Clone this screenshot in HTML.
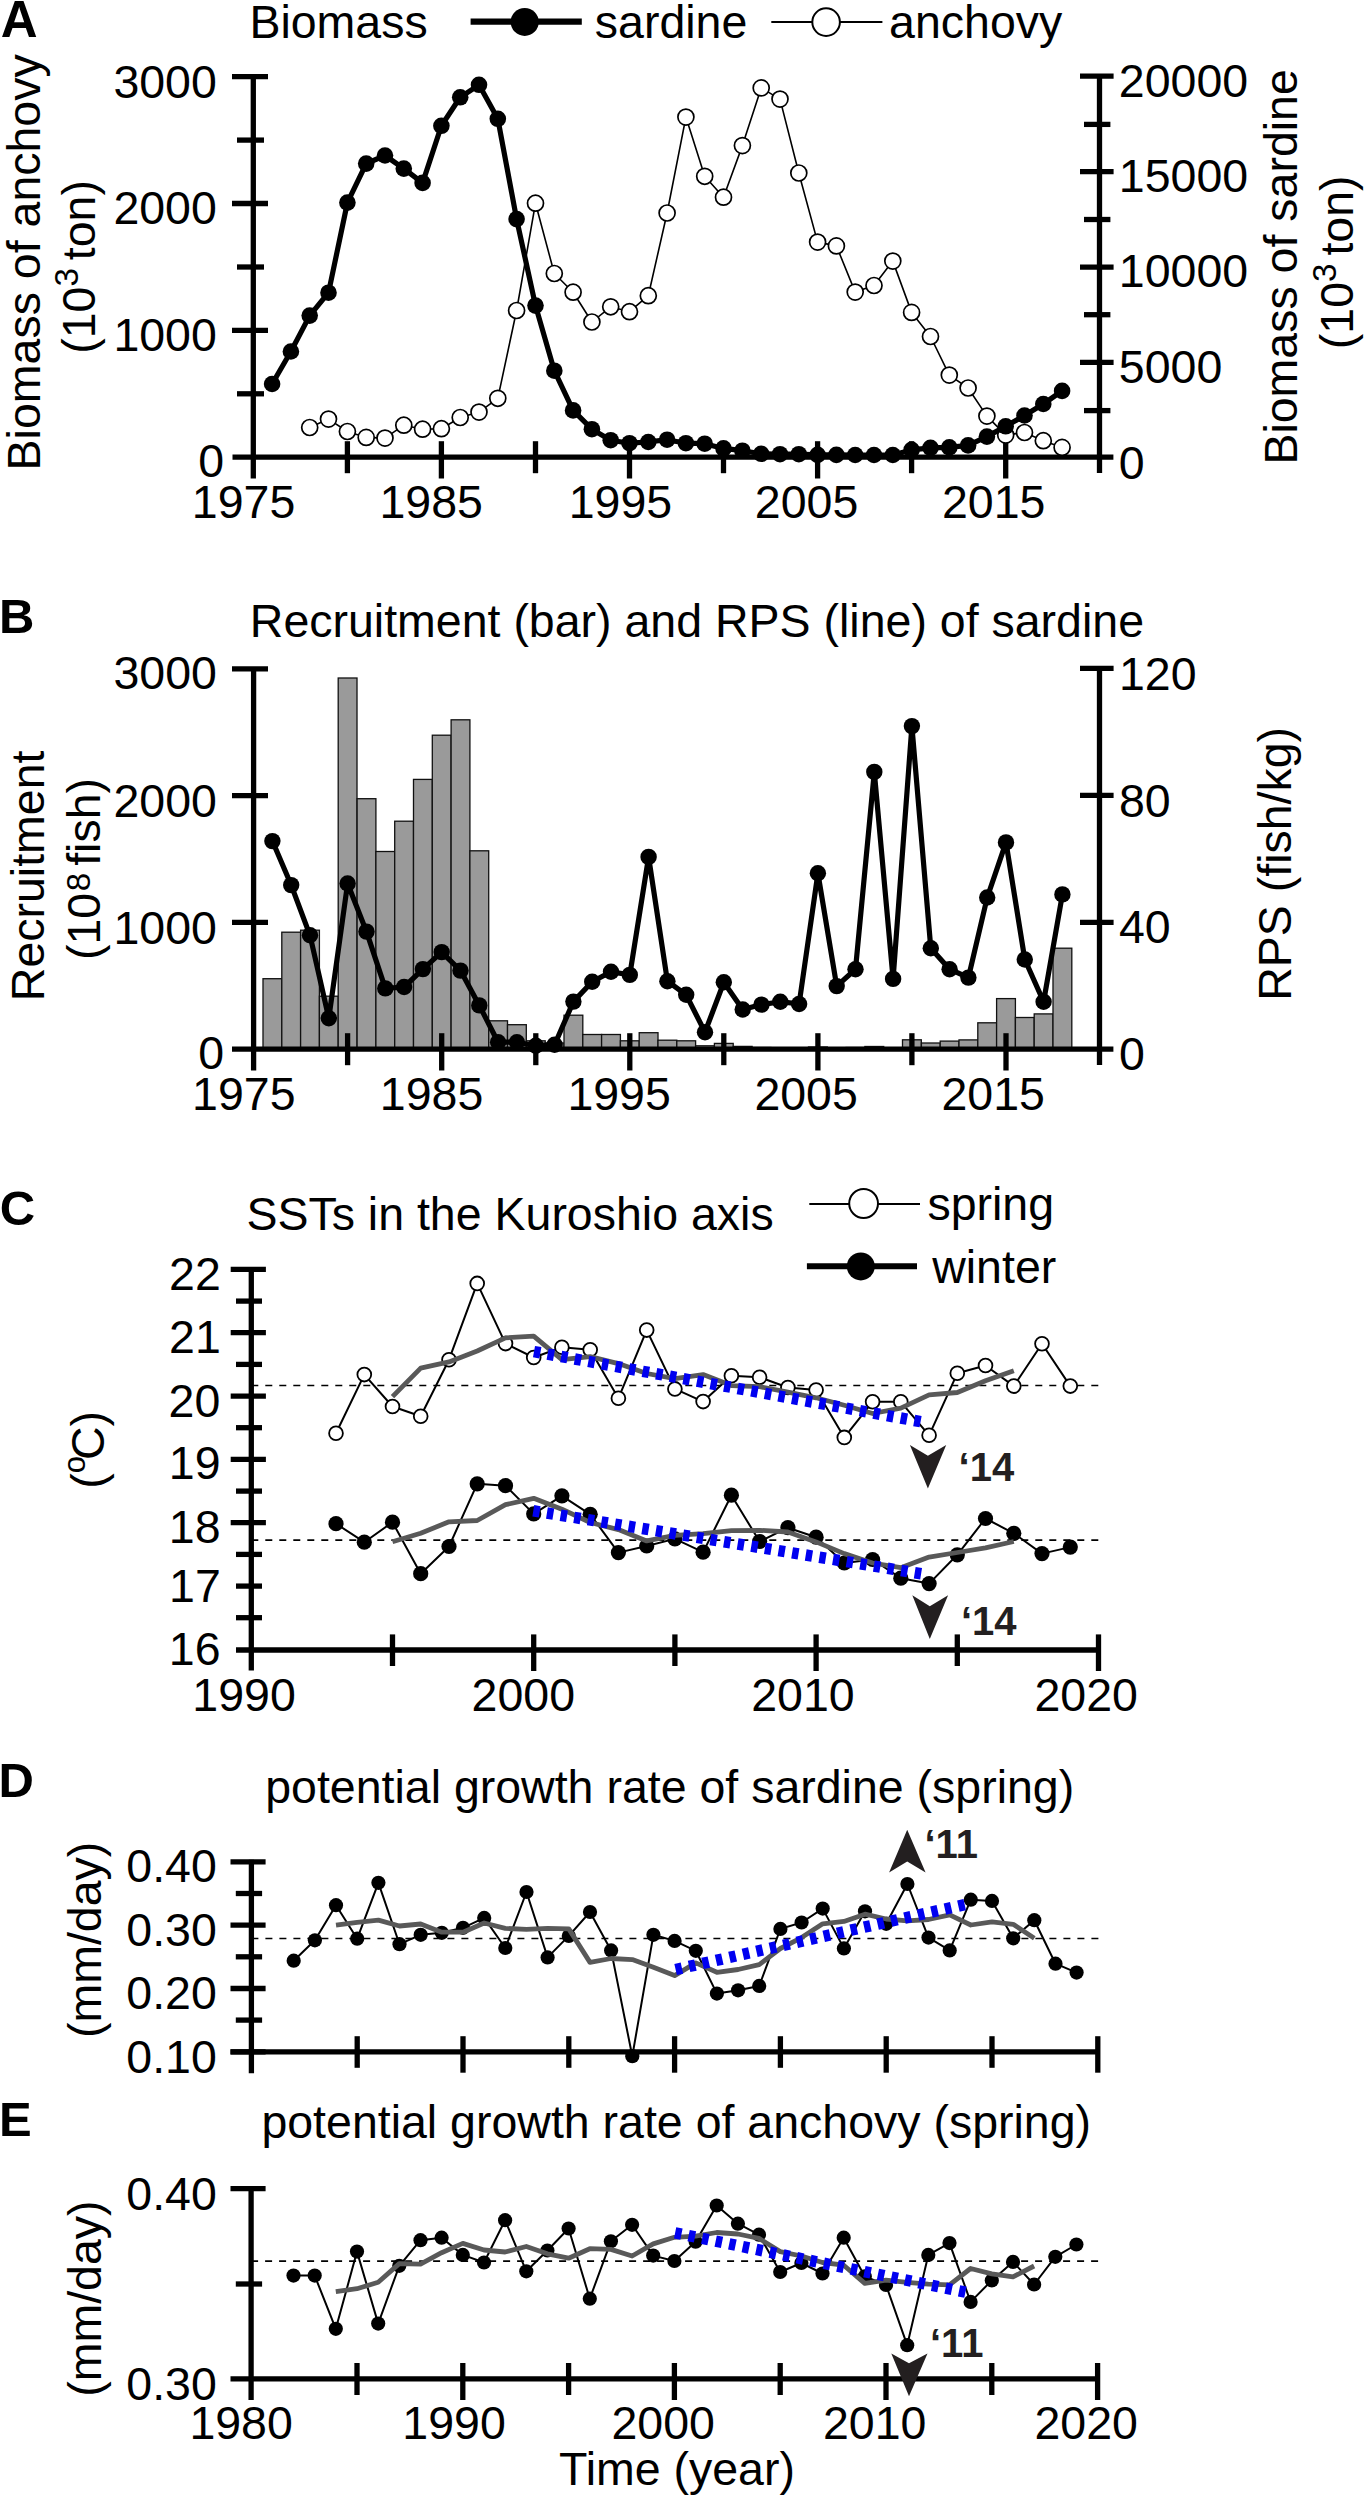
<!DOCTYPE html>
<html><head><meta charset="utf-8"><style>
html,body{margin:0;padding:0;background:#fff;}
svg{display:block;}
text{font-family:"Liberation Sans", sans-serif;}
</style></head><body>
<svg width="1367" height="2500" viewBox="0 0 1367 2500">
<rect width="1367" height="2500" fill="#fff"/>
<line x1="253.3" y1="76.7" x2="253.3" y2="478.5" stroke="#000" stroke-width="5.3"/>
<line x1="1099.5" y1="76" x2="1099.5" y2="473" stroke="#000" stroke-width="5.3"/>
<line x1="232.5" y1="457.2" x2="1113.4" y2="457.2" stroke="#000" stroke-width="5.3"/>
<line x1="232" y1="76.7" x2="268" y2="76.7" stroke="#000" stroke-width="5.3"/>
<line x1="232" y1="203.5" x2="268" y2="203.5" stroke="#000" stroke-width="5.3"/>
<line x1="232" y1="330.4" x2="268" y2="330.4" stroke="#000" stroke-width="5.3"/>
<line x1="237" y1="140.1" x2="264" y2="140.1" stroke="#000" stroke-width="5.3"/>
<line x1="237" y1="267" x2="264" y2="267" stroke="#000" stroke-width="5.3"/>
<line x1="237" y1="393.8" x2="264" y2="393.8" stroke="#000" stroke-width="5.3"/>
<line x1="1080" y1="76.1" x2="1113.6" y2="76.1" stroke="#000" stroke-width="5.3"/>
<line x1="1080" y1="171.6" x2="1113.6" y2="171.6" stroke="#000" stroke-width="5.3"/>
<line x1="1080" y1="267.2" x2="1113.6" y2="267.2" stroke="#000" stroke-width="5.3"/>
<line x1="1080" y1="362.3" x2="1113.6" y2="362.3" stroke="#000" stroke-width="5.3"/>
<line x1="1084" y1="124.4" x2="1110.4" y2="124.4" stroke="#000" stroke-width="5.3"/>
<line x1="1084" y1="219.5" x2="1110.4" y2="219.5" stroke="#000" stroke-width="5.3"/>
<line x1="1084" y1="314.7" x2="1110.4" y2="314.7" stroke="#000" stroke-width="5.3"/>
<line x1="1084" y1="410.6" x2="1110.4" y2="410.6" stroke="#000" stroke-width="5.3"/>
<line x1="347.4" y1="441.2" x2="347.4" y2="473.2" stroke="#000" stroke-width="5.3"/>
<line x1="441.4" y1="441.2" x2="441.4" y2="478.5" stroke="#000" stroke-width="5.3"/>
<line x1="535.5" y1="441.2" x2="535.5" y2="473.2" stroke="#000" stroke-width="5.3"/>
<line x1="629.5" y1="441.2" x2="629.5" y2="478.5" stroke="#000" stroke-width="5.3"/>
<line x1="723.5" y1="441.2" x2="723.5" y2="473.2" stroke="#000" stroke-width="5.3"/>
<line x1="817.6" y1="441.2" x2="817.6" y2="478.5" stroke="#000" stroke-width="5.3"/>
<line x1="911.6" y1="441.2" x2="911.6" y2="473.2" stroke="#000" stroke-width="5.3"/>
<line x1="1005.7" y1="441.2" x2="1005.7" y2="478.5" stroke="#000" stroke-width="5.3"/>
<polyline points="309.7,427.5 328.5,419.1 347.4,431.5 366.2,437.4 385,438.1 403.8,425.2 422.6,429.2 441.4,428.7 460.2,417.5 479,412.1 497.8,398.3 516.6,310.5 535.5,203.2 554.3,273.5 573.1,292.2 591.9,322 610.7,306.8 629.5,311.7 648.3,295.7 667.1,213 685.9,117.1 704.7,176.3 723.5,197.2 742.4,145.6 761.2,87.9 780,99.1 798.8,173 817.6,242.1 836.4,245.9 855.2,292.1 874,285.5 892.8,261.1 911.6,312.4 930.5,336.5 949.3,375.1 968.1,388 986.9,416.1 1005.7,435.1 1024.5,432.5 1043.3,440.7 1062.1,447.4" fill="none" stroke="#000" stroke-width="1.6" stroke-linejoin="round"/>
<circle cx="309.7" cy="427.5" r="8" fill="#fff" stroke="#000" stroke-width="1.7"/>
<circle cx="328.5" cy="419.1" r="8" fill="#fff" stroke="#000" stroke-width="1.7"/>
<circle cx="347.4" cy="431.5" r="8" fill="#fff" stroke="#000" stroke-width="1.7"/>
<circle cx="366.2" cy="437.4" r="8" fill="#fff" stroke="#000" stroke-width="1.7"/>
<circle cx="385" cy="438.1" r="8" fill="#fff" stroke="#000" stroke-width="1.7"/>
<circle cx="403.8" cy="425.2" r="8" fill="#fff" stroke="#000" stroke-width="1.7"/>
<circle cx="422.6" cy="429.2" r="8" fill="#fff" stroke="#000" stroke-width="1.7"/>
<circle cx="441.4" cy="428.7" r="8" fill="#fff" stroke="#000" stroke-width="1.7"/>
<circle cx="460.2" cy="417.5" r="8" fill="#fff" stroke="#000" stroke-width="1.7"/>
<circle cx="479" cy="412.1" r="8" fill="#fff" stroke="#000" stroke-width="1.7"/>
<circle cx="497.8" cy="398.3" r="8" fill="#fff" stroke="#000" stroke-width="1.7"/>
<circle cx="516.6" cy="310.5" r="8" fill="#fff" stroke="#000" stroke-width="1.7"/>
<circle cx="535.5" cy="203.2" r="8" fill="#fff" stroke="#000" stroke-width="1.7"/>
<circle cx="554.3" cy="273.5" r="8" fill="#fff" stroke="#000" stroke-width="1.7"/>
<circle cx="573.1" cy="292.2" r="8" fill="#fff" stroke="#000" stroke-width="1.7"/>
<circle cx="591.9" cy="322" r="8" fill="#fff" stroke="#000" stroke-width="1.7"/>
<circle cx="610.7" cy="306.8" r="8" fill="#fff" stroke="#000" stroke-width="1.7"/>
<circle cx="629.5" cy="311.7" r="8" fill="#fff" stroke="#000" stroke-width="1.7"/>
<circle cx="648.3" cy="295.7" r="8" fill="#fff" stroke="#000" stroke-width="1.7"/>
<circle cx="667.1" cy="213" r="8" fill="#fff" stroke="#000" stroke-width="1.7"/>
<circle cx="685.9" cy="117.1" r="8" fill="#fff" stroke="#000" stroke-width="1.7"/>
<circle cx="704.7" cy="176.3" r="8" fill="#fff" stroke="#000" stroke-width="1.7"/>
<circle cx="723.5" cy="197.2" r="8" fill="#fff" stroke="#000" stroke-width="1.7"/>
<circle cx="742.4" cy="145.6" r="8" fill="#fff" stroke="#000" stroke-width="1.7"/>
<circle cx="761.2" cy="87.9" r="8" fill="#fff" stroke="#000" stroke-width="1.7"/>
<circle cx="780" cy="99.1" r="8" fill="#fff" stroke="#000" stroke-width="1.7"/>
<circle cx="798.8" cy="173" r="8" fill="#fff" stroke="#000" stroke-width="1.7"/>
<circle cx="817.6" cy="242.1" r="8" fill="#fff" stroke="#000" stroke-width="1.7"/>
<circle cx="836.4" cy="245.9" r="8" fill="#fff" stroke="#000" stroke-width="1.7"/>
<circle cx="855.2" cy="292.1" r="8" fill="#fff" stroke="#000" stroke-width="1.7"/>
<circle cx="874" cy="285.5" r="8" fill="#fff" stroke="#000" stroke-width="1.7"/>
<circle cx="892.8" cy="261.1" r="8" fill="#fff" stroke="#000" stroke-width="1.7"/>
<circle cx="911.6" cy="312.4" r="8" fill="#fff" stroke="#000" stroke-width="1.7"/>
<circle cx="930.5" cy="336.5" r="8" fill="#fff" stroke="#000" stroke-width="1.7"/>
<circle cx="949.3" cy="375.1" r="8" fill="#fff" stroke="#000" stroke-width="1.7"/>
<circle cx="968.1" cy="388" r="8" fill="#fff" stroke="#000" stroke-width="1.7"/>
<circle cx="986.9" cy="416.1" r="8" fill="#fff" stroke="#000" stroke-width="1.7"/>
<circle cx="1005.7" cy="435.1" r="8" fill="#fff" stroke="#000" stroke-width="1.7"/>
<circle cx="1024.5" cy="432.5" r="8" fill="#fff" stroke="#000" stroke-width="1.7"/>
<circle cx="1043.3" cy="440.7" r="8" fill="#fff" stroke="#000" stroke-width="1.7"/>
<circle cx="1062.1" cy="447.4" r="8" fill="#fff" stroke="#000" stroke-width="1.7"/>
<polyline points="272.1,384 290.9,351.5 309.7,315.6 328.5,292.7 347.4,202.6 366.2,163.6 385,155.5 403.8,168.6 422.6,182.9 441.4,125.8 460.2,97.3 479,84.8 497.8,118.8 516.6,219.1 535.5,305.6 554.3,370.7 573.1,410.4 591.9,429.2 610.7,440.2 629.5,443.2 648.3,442 667.1,439.7 685.9,443.2 704.7,443.7 723.5,448.4 742.4,450.7 761.2,453.8 780,454.2 798.8,454.2 817.6,454.9 836.4,454.9 855.2,455 874,455 892.8,455 911.6,449.9 930.5,447.8 949.3,447.4 968.1,445.4 986.9,436.6 1005.7,426.3 1024.5,415.5 1043.3,404 1062.1,390.9" fill="none" stroke="#000" stroke-width="5.2" stroke-linejoin="round"/>
<circle cx="272.1" cy="384" r="8.3" fill="#000"/>
<circle cx="290.9" cy="351.5" r="8.3" fill="#000"/>
<circle cx="309.7" cy="315.6" r="8.3" fill="#000"/>
<circle cx="328.5" cy="292.7" r="8.3" fill="#000"/>
<circle cx="347.4" cy="202.6" r="8.3" fill="#000"/>
<circle cx="366.2" cy="163.6" r="8.3" fill="#000"/>
<circle cx="385" cy="155.5" r="8.3" fill="#000"/>
<circle cx="403.8" cy="168.6" r="8.3" fill="#000"/>
<circle cx="422.6" cy="182.9" r="8.3" fill="#000"/>
<circle cx="441.4" cy="125.8" r="8.3" fill="#000"/>
<circle cx="460.2" cy="97.3" r="8.3" fill="#000"/>
<circle cx="479" cy="84.8" r="8.3" fill="#000"/>
<circle cx="497.8" cy="118.8" r="8.3" fill="#000"/>
<circle cx="516.6" cy="219.1" r="8.3" fill="#000"/>
<circle cx="535.5" cy="305.6" r="8.3" fill="#000"/>
<circle cx="554.3" cy="370.7" r="8.3" fill="#000"/>
<circle cx="573.1" cy="410.4" r="8.3" fill="#000"/>
<circle cx="591.9" cy="429.2" r="8.3" fill="#000"/>
<circle cx="610.7" cy="440.2" r="8.3" fill="#000"/>
<circle cx="629.5" cy="443.2" r="8.3" fill="#000"/>
<circle cx="648.3" cy="442" r="8.3" fill="#000"/>
<circle cx="667.1" cy="439.7" r="8.3" fill="#000"/>
<circle cx="685.9" cy="443.2" r="8.3" fill="#000"/>
<circle cx="704.7" cy="443.7" r="8.3" fill="#000"/>
<circle cx="723.5" cy="448.4" r="8.3" fill="#000"/>
<circle cx="742.4" cy="450.7" r="8.3" fill="#000"/>
<circle cx="761.2" cy="453.8" r="8.3" fill="#000"/>
<circle cx="780" cy="454.2" r="8.3" fill="#000"/>
<circle cx="798.8" cy="454.2" r="8.3" fill="#000"/>
<circle cx="817.6" cy="454.9" r="8.3" fill="#000"/>
<circle cx="836.4" cy="454.9" r="8.3" fill="#000"/>
<circle cx="855.2" cy="455" r="8.3" fill="#000"/>
<circle cx="874" cy="455" r="8.3" fill="#000"/>
<circle cx="892.8" cy="455" r="8.3" fill="#000"/>
<circle cx="911.6" cy="449.9" r="8.3" fill="#000"/>
<circle cx="930.5" cy="447.8" r="8.3" fill="#000"/>
<circle cx="949.3" cy="447.4" r="8.3" fill="#000"/>
<circle cx="968.1" cy="445.4" r="8.3" fill="#000"/>
<circle cx="986.9" cy="436.6" r="8.3" fill="#000"/>
<circle cx="1005.7" cy="426.3" r="8.3" fill="#000"/>
<circle cx="1024.5" cy="415.5" r="8.3" fill="#000"/>
<circle cx="1043.3" cy="404" r="8.3" fill="#000"/>
<circle cx="1062.1" cy="390.9" r="8.3" fill="#000"/>
<line x1="470.6" y1="21.6" x2="581.8" y2="21.6" stroke="#000" stroke-width="6.4"/>
<circle cx="524.7" cy="21.9" r="14" fill="#000"/>
<line x1="771.3" y1="22.1" x2="882.4" y2="22.1" stroke="#000" stroke-width="2"/>
<circle cx="826.1" cy="22.1" r="13.8" fill="#fff" stroke="#000" stroke-width="2"/>
<text x="0.8" y="36.5" font-size="51" font-weight="bold">A</text>
<text x="249.4" y="38.1" font-size="46.5">Biomass</text>
<text x="594.8" y="38.1" font-size="46.5">sardine</text>
<text x="889.1" y="38.1" font-size="46.5">anchovy</text>
<text x="113.4" y="98.1" font-size="46.5">3000</text>
<text x="113.4" y="224.3" font-size="46.5">2000</text>
<text x="113.4" y="350.5" font-size="46.5">1000</text>
<text x="198.2" y="476.7" font-size="46.5">0</text>
<text x="191.8" y="517.8" font-size="46.5">1975</text>
<text x="379.5" y="517.8" font-size="46.5">1985</text>
<text x="568.7" y="517.8" font-size="46.5">1995</text>
<text x="754.8" y="517.8" font-size="46.5">2005</text>
<text x="942" y="517.8" font-size="46.5">2015</text>
<text x="1118.8" y="96.6" font-size="46.5">20000</text>
<text x="1118.8" y="192.2" font-size="46.5">15000</text>
<text x="1118.8" y="287.1" font-size="46.5">10000</text>
<text x="1118.8" y="383.2" font-size="46.5">5000</text>
<text x="1118.8" y="478.7" font-size="46.5">0</text>
<text transform="translate(39.5,470.4) rotate(-90)" font-size="46.5">Biomass of anchovy</text>
<text transform="translate(95.1,353.8) rotate(-90)" font-size="46.5">(10<tspan font-size="33" dy="-17">3</tspan><tspan dy="17" dx="8">ton)</tspan></text>
<text transform="translate(1297.3,464.6) rotate(-90)" font-size="46.5">Biomass of sardine</text>
<text transform="translate(1352.5,349.2) rotate(-90)" font-size="46.5">(10<tspan font-size="33" dy="-17">3</tspan><tspan dy="17" dx="8">ton)</tspan></text>
<rect x="263" y="978.7" width="18.81" height="70.5" fill="#9a9a9a" stroke="#111" stroke-width="1.3"/>
<rect x="281.8" y="932.2" width="18.81" height="117" fill="#9a9a9a" stroke="#111" stroke-width="1.3"/>
<rect x="300.6" y="930.2" width="18.81" height="119" fill="#9a9a9a" stroke="#111" stroke-width="1.3"/>
<rect x="319.4" y="996.2" width="18.81" height="53" fill="#9a9a9a" stroke="#111" stroke-width="1.3"/>
<rect x="338.2" y="678" width="18.81" height="371.2" fill="#9a9a9a" stroke="#111" stroke-width="1.3"/>
<rect x="357.1" y="798.7" width="18.81" height="250.5" fill="#9a9a9a" stroke="#111" stroke-width="1.3"/>
<rect x="375.9" y="851.5" width="18.81" height="197.7" fill="#9a9a9a" stroke="#111" stroke-width="1.3"/>
<rect x="394.7" y="821.2" width="18.81" height="228" fill="#9a9a9a" stroke="#111" stroke-width="1.3"/>
<rect x="413.5" y="779.4" width="18.81" height="269.8" fill="#9a9a9a" stroke="#111" stroke-width="1.3"/>
<rect x="432.3" y="735.2" width="18.81" height="314" fill="#9a9a9a" stroke="#111" stroke-width="1.3"/>
<rect x="451.1" y="719.8" width="18.81" height="329.4" fill="#9a9a9a" stroke="#111" stroke-width="1.3"/>
<rect x="469.9" y="850.8" width="18.81" height="198.4" fill="#9a9a9a" stroke="#111" stroke-width="1.3"/>
<rect x="488.7" y="1020.8" width="18.81" height="28.4" fill="#9a9a9a" stroke="#111" stroke-width="1.3"/>
<rect x="507.5" y="1024.7" width="18.81" height="24.5" fill="#9a9a9a" stroke="#111" stroke-width="1.3"/>
<rect x="526.4" y="1040.8" width="18.81" height="8.4" fill="#9a9a9a" stroke="#111" stroke-width="1.3"/>
<rect x="545.2" y="1043" width="18.81" height="6.2" fill="#9a9a9a" stroke="#111" stroke-width="1.3"/>
<rect x="564" y="1015.2" width="18.81" height="34" fill="#9a9a9a" stroke="#111" stroke-width="1.3"/>
<rect x="582.8" y="1034.5" width="18.81" height="14.7" fill="#9a9a9a" stroke="#111" stroke-width="1.3"/>
<rect x="601.6" y="1034.5" width="18.81" height="14.7" fill="#9a9a9a" stroke="#111" stroke-width="1.3"/>
<rect x="620.4" y="1040.8" width="18.81" height="8.4" fill="#9a9a9a" stroke="#111" stroke-width="1.3"/>
<rect x="639.2" y="1032.7" width="18.81" height="16.5" fill="#9a9a9a" stroke="#111" stroke-width="1.3"/>
<rect x="658" y="1040.2" width="18.81" height="9" fill="#9a9a9a" stroke="#111" stroke-width="1.3"/>
<rect x="676.8" y="1040.8" width="18.81" height="8.4" fill="#9a9a9a" stroke="#111" stroke-width="1.3"/>
<rect x="695.6" y="1045.8" width="18.81" height="3.4" fill="#9a9a9a" stroke="#111" stroke-width="1.3"/>
<rect x="714.4" y="1043.4" width="18.81" height="5.8" fill="#9a9a9a" stroke="#111" stroke-width="1.3"/>
<rect x="733.3" y="1046.4" width="18.81" height="2.8" fill="#9a9a9a" stroke="#111" stroke-width="1.3"/>
<rect x="752.1" y="1047.5" width="18.81" height="1.7" fill="#9a9a9a" stroke="#111" stroke-width="1.3"/>
<rect x="770.9" y="1048" width="18.81" height="1.2" fill="#9a9a9a" stroke="#111" stroke-width="1.3"/>
<rect x="789.7" y="1048.5" width="18.81" height="0.7" fill="#9a9a9a" stroke="#111" stroke-width="1.3"/>
<rect x="808.5" y="1047" width="18.81" height="2.2" fill="#9a9a9a" stroke="#111" stroke-width="1.3"/>
<rect x="827.3" y="1048" width="18.81" height="1.2" fill="#9a9a9a" stroke="#111" stroke-width="1.3"/>
<rect x="846.1" y="1047.5" width="18.81" height="1.7" fill="#9a9a9a" stroke="#111" stroke-width="1.3"/>
<rect x="864.9" y="1046.5" width="18.81" height="2.7" fill="#9a9a9a" stroke="#111" stroke-width="1.3"/>
<rect x="883.7" y="1048" width="18.81" height="1.2" fill="#9a9a9a" stroke="#111" stroke-width="1.3"/>
<rect x="902.5" y="1039.8" width="18.81" height="9.4" fill="#9a9a9a" stroke="#111" stroke-width="1.3"/>
<rect x="921.4" y="1043" width="18.81" height="6.2" fill="#9a9a9a" stroke="#111" stroke-width="1.3"/>
<rect x="940.2" y="1041.1" width="18.81" height="8.1" fill="#9a9a9a" stroke="#111" stroke-width="1.3"/>
<rect x="959" y="1039.9" width="18.81" height="9.3" fill="#9a9a9a" stroke="#111" stroke-width="1.3"/>
<rect x="977.8" y="1022.8" width="18.81" height="26.4" fill="#9a9a9a" stroke="#111" stroke-width="1.3"/>
<rect x="996.6" y="998.6" width="18.81" height="50.6" fill="#9a9a9a" stroke="#111" stroke-width="1.3"/>
<rect x="1015.4" y="1017.5" width="18.81" height="31.7" fill="#9a9a9a" stroke="#111" stroke-width="1.3"/>
<rect x="1034.2" y="1013.9" width="18.81" height="35.3" fill="#9a9a9a" stroke="#111" stroke-width="1.3"/>
<rect x="1053" y="948.2" width="18.81" height="101" fill="#9a9a9a" stroke="#111" stroke-width="1.3"/>
<line x1="253.6" y1="668.8" x2="253.6" y2="1070.6" stroke="#000" stroke-width="5.3"/>
<line x1="1099.5" y1="667.3" x2="1099.5" y2="1065" stroke="#000" stroke-width="5.3"/>
<line x1="232" y1="1049.2" x2="1113.4" y2="1049.2" stroke="#000" stroke-width="5.3"/>
<line x1="232" y1="668.8" x2="268" y2="668.8" stroke="#000" stroke-width="5.3"/>
<line x1="232" y1="795.6" x2="268" y2="795.6" stroke="#000" stroke-width="5.3"/>
<line x1="232" y1="922.4" x2="268" y2="922.4" stroke="#000" stroke-width="5.3"/>
<line x1="1080" y1="668.3" x2="1113.6" y2="668.3" stroke="#000" stroke-width="5.3"/>
<line x1="1080" y1="795.4" x2="1113.6" y2="795.4" stroke="#000" stroke-width="5.3"/>
<line x1="1080" y1="922.4" x2="1113.6" y2="922.4" stroke="#000" stroke-width="5.3"/>
<line x1="347.6" y1="1033.2" x2="347.6" y2="1065.2" stroke="#000" stroke-width="5.3"/>
<line x1="441.7" y1="1033.2" x2="441.7" y2="1070.5" stroke="#000" stroke-width="5.3"/>
<line x1="535.8" y1="1033.2" x2="535.8" y2="1065.2" stroke="#000" stroke-width="5.3"/>
<line x1="629.8" y1="1033.2" x2="629.8" y2="1070.5" stroke="#000" stroke-width="5.3"/>
<line x1="723.8" y1="1033.2" x2="723.8" y2="1065.2" stroke="#000" stroke-width="5.3"/>
<line x1="817.9" y1="1033.2" x2="817.9" y2="1070.5" stroke="#000" stroke-width="5.3"/>
<line x1="911.9" y1="1033.2" x2="911.9" y2="1065.2" stroke="#000" stroke-width="5.3"/>
<line x1="1006" y1="1033.2" x2="1006" y2="1070.5" stroke="#000" stroke-width="5.3"/>
<polyline points="272.4,841.1 291.2,885.1 310,935.3 328.8,1018.3 347.6,883.5 366.5,931.6 385.3,988.4 404.1,987 422.9,969.1 441.7,952.1 460.5,970.6 479.3,1005.4 498.1,1042.2 516.9,1042.2 535.8,1045.8 554.6,1044.7 573.4,1001.6 592.2,981.7 611,971.7 629.8,974.9 648.6,856.9 667.4,981.2 686.2,994.8 705,1032.2 723.8,982.3 742.7,1009.5 761.5,1004.6 780.3,1001.7 799.1,1004 817.9,873.3 836.7,986.1 855.5,969.2 874.3,771.9 893.1,978.9 911.9,726.1 930.8,948.2 949.6,969.2 968.4,977.6 987.2,897.5 1006,842.4 1024.8,959.5 1043.6,1001.8 1062.4,894.4" fill="none" stroke="#000" stroke-width="5.2" stroke-linejoin="round"/>
<circle cx="272.4" cy="841.1" r="8.2" fill="#000"/>
<circle cx="291.2" cy="885.1" r="8.2" fill="#000"/>
<circle cx="310" cy="935.3" r="8.2" fill="#000"/>
<circle cx="328.8" cy="1018.3" r="8.2" fill="#000"/>
<circle cx="347.6" cy="883.5" r="8.2" fill="#000"/>
<circle cx="366.5" cy="931.6" r="8.2" fill="#000"/>
<circle cx="385.3" cy="988.4" r="8.2" fill="#000"/>
<circle cx="404.1" cy="987" r="8.2" fill="#000"/>
<circle cx="422.9" cy="969.1" r="8.2" fill="#000"/>
<circle cx="441.7" cy="952.1" r="8.2" fill="#000"/>
<circle cx="460.5" cy="970.6" r="8.2" fill="#000"/>
<circle cx="479.3" cy="1005.4" r="8.2" fill="#000"/>
<circle cx="498.1" cy="1042.2" r="8.2" fill="#000"/>
<circle cx="516.9" cy="1042.2" r="8.2" fill="#000"/>
<circle cx="535.8" cy="1045.8" r="8.2" fill="#000"/>
<circle cx="554.6" cy="1044.7" r="8.2" fill="#000"/>
<circle cx="573.4" cy="1001.6" r="8.2" fill="#000"/>
<circle cx="592.2" cy="981.7" r="8.2" fill="#000"/>
<circle cx="611" cy="971.7" r="8.2" fill="#000"/>
<circle cx="629.8" cy="974.9" r="8.2" fill="#000"/>
<circle cx="648.6" cy="856.9" r="8.2" fill="#000"/>
<circle cx="667.4" cy="981.2" r="8.2" fill="#000"/>
<circle cx="686.2" cy="994.8" r="8.2" fill="#000"/>
<circle cx="705" cy="1032.2" r="8.2" fill="#000"/>
<circle cx="723.8" cy="982.3" r="8.2" fill="#000"/>
<circle cx="742.7" cy="1009.5" r="8.2" fill="#000"/>
<circle cx="761.5" cy="1004.6" r="8.2" fill="#000"/>
<circle cx="780.3" cy="1001.7" r="8.2" fill="#000"/>
<circle cx="799.1" cy="1004" r="8.2" fill="#000"/>
<circle cx="817.9" cy="873.3" r="8.2" fill="#000"/>
<circle cx="836.7" cy="986.1" r="8.2" fill="#000"/>
<circle cx="855.5" cy="969.2" r="8.2" fill="#000"/>
<circle cx="874.3" cy="771.9" r="8.2" fill="#000"/>
<circle cx="893.1" cy="978.9" r="8.2" fill="#000"/>
<circle cx="911.9" cy="726.1" r="8.2" fill="#000"/>
<circle cx="930.8" cy="948.2" r="8.2" fill="#000"/>
<circle cx="949.6" cy="969.2" r="8.2" fill="#000"/>
<circle cx="968.4" cy="977.6" r="8.2" fill="#000"/>
<circle cx="987.2" cy="897.5" r="8.2" fill="#000"/>
<circle cx="1006" cy="842.4" r="8.2" fill="#000"/>
<circle cx="1024.8" cy="959.5" r="8.2" fill="#000"/>
<circle cx="1043.6" cy="1001.8" r="8.2" fill="#000"/>
<circle cx="1062.4" cy="894.4" r="8.2" fill="#000"/>
<text x="-1" y="632.5" font-size="49" font-weight="bold">B</text>
<text x="249.8" y="636.8" font-size="46.5">Recruitment (bar) and RPS (line) of sardine</text>
<text x="113.5" y="689.2" font-size="46.5">3000</text>
<text x="113.5" y="816.9" font-size="46.5">2000</text>
<text x="113.5" y="943.5" font-size="46.5">1000</text>
<text x="198.2" y="1069.3" font-size="46.5">0</text>
<text x="192.1" y="1110.1" font-size="46.5">1975</text>
<text x="379.8" y="1110.1" font-size="46.5">1985</text>
<text x="567.4" y="1110.1" font-size="46.5">1995</text>
<text x="754.4" y="1110.1" font-size="46.5">2005</text>
<text x="941.5" y="1110.1" font-size="46.5">2015</text>
<text x="1119" y="690.3" font-size="46.5">120</text>
<text x="1119" y="817.4" font-size="46.5">80</text>
<text x="1119" y="943.3" font-size="46.5">40</text>
<text x="1119" y="1070.4" font-size="46.5">0</text>
<text transform="translate(44.2,1001.2) rotate(-90)" font-size="46.5">Recruitment</text>
<text transform="translate(99.8,960) rotate(-90)" font-size="46.5">(10<tspan font-size="33" dy="-10" dx="1.6">8</tspan><tspan dy="10" dx="7">fish)</tspan></text>
<text transform="translate(1291,1000.8) rotate(-90)" font-size="46.5">RPS (fish/kg)</text>
<line x1="251.3" y1="1268.8" x2="251.3" y2="1670.4" stroke="#000" stroke-width="5.3"/>
<line x1="236" y1="1650" x2="1098.5" y2="1650" stroke="#000" stroke-width="5.3"/>
<line x1="230.7" y1="1269.4" x2="265.9" y2="1269.4" stroke="#000" stroke-width="5.3"/>
<line x1="230.7" y1="1332.7" x2="265.9" y2="1332.7" stroke="#000" stroke-width="5.3"/>
<line x1="230.7" y1="1396.1" x2="265.9" y2="1396.1" stroke="#000" stroke-width="5.3"/>
<line x1="230.7" y1="1459.4" x2="265.9" y2="1459.4" stroke="#000" stroke-width="5.3"/>
<line x1="230.7" y1="1522.7" x2="265.9" y2="1522.7" stroke="#000" stroke-width="5.3"/>
<line x1="236" y1="1301.1" x2="262" y2="1301.1" stroke="#000" stroke-width="5.3"/>
<line x1="236" y1="1364.4" x2="262" y2="1364.4" stroke="#000" stroke-width="5.3"/>
<line x1="236" y1="1427.7" x2="262" y2="1427.7" stroke="#000" stroke-width="5.3"/>
<line x1="236" y1="1491.1" x2="262" y2="1491.1" stroke="#000" stroke-width="5.3"/>
<line x1="236" y1="1554.4" x2="262" y2="1554.4" stroke="#000" stroke-width="5.3"/>
<line x1="236" y1="1586.1" x2="262" y2="1586.1" stroke="#000" stroke-width="5.3"/>
<line x1="236" y1="1617.7" x2="262" y2="1617.7" stroke="#000" stroke-width="5.3"/>
<line x1="392.5" y1="1634.4" x2="392.5" y2="1666" stroke="#000" stroke-width="5.3"/>
<line x1="533.7" y1="1634.4" x2="533.7" y2="1671" stroke="#000" stroke-width="5.3"/>
<line x1="674.9" y1="1634.4" x2="674.9" y2="1666" stroke="#000" stroke-width="5.3"/>
<line x1="816.1" y1="1634.4" x2="816.1" y2="1671" stroke="#000" stroke-width="5.3"/>
<line x1="957.3" y1="1634.4" x2="957.3" y2="1666" stroke="#000" stroke-width="5.3"/>
<line x1="1098.5" y1="1634.4" x2="1098.5" y2="1671" stroke="#000" stroke-width="5.3"/>
<line x1="251.3" y1="1385.5" x2="1098.5" y2="1385.5" stroke="#000" stroke-width="1.7" stroke-dasharray="7 7"/>
<line x1="251.3" y1="1540.1" x2="1098.5" y2="1540.1" stroke="#000" stroke-width="1.7" stroke-dasharray="7 7"/>
<polyline points="336,1433.2 364.3,1374.6 392.5,1406.5 420.7,1416.3 449,1359.7 477.2,1283.4 505.5,1343.6 533.7,1357.5 561.9,1347.2 590.2,1349.8 618.4,1398.3 646.7,1330.1 674.9,1388.9 703.1,1401.6 731.4,1375.7 759.6,1377.2 787.9,1387.5 816.1,1390.1 844.3,1437.4 872.6,1401.8 900.8,1401.8 929.1,1435.3 957.3,1373.3 985.5,1365.5 1013.8,1386.1 1042,1343.8 1070.3,1386.1" fill="none" stroke="#000" stroke-width="2" stroke-linejoin="round"/>
<circle cx="336" cy="1433.2" r="6.9" fill="#fff" stroke="#000" stroke-width="1.8"/>
<circle cx="364.3" cy="1374.6" r="6.9" fill="#fff" stroke="#000" stroke-width="1.8"/>
<circle cx="392.5" cy="1406.5" r="6.9" fill="#fff" stroke="#000" stroke-width="1.8"/>
<circle cx="420.7" cy="1416.3" r="6.9" fill="#fff" stroke="#000" stroke-width="1.8"/>
<circle cx="449" cy="1359.7" r="6.9" fill="#fff" stroke="#000" stroke-width="1.8"/>
<circle cx="477.2" cy="1283.4" r="6.9" fill="#fff" stroke="#000" stroke-width="1.8"/>
<circle cx="505.5" cy="1343.6" r="6.9" fill="#fff" stroke="#000" stroke-width="1.8"/>
<circle cx="533.7" cy="1357.5" r="6.9" fill="#fff" stroke="#000" stroke-width="1.8"/>
<circle cx="561.9" cy="1347.2" r="6.9" fill="#fff" stroke="#000" stroke-width="1.8"/>
<circle cx="590.2" cy="1349.8" r="6.9" fill="#fff" stroke="#000" stroke-width="1.8"/>
<circle cx="618.4" cy="1398.3" r="6.9" fill="#fff" stroke="#000" stroke-width="1.8"/>
<circle cx="646.7" cy="1330.1" r="6.9" fill="#fff" stroke="#000" stroke-width="1.8"/>
<circle cx="674.9" cy="1388.9" r="6.9" fill="#fff" stroke="#000" stroke-width="1.8"/>
<circle cx="703.1" cy="1401.6" r="6.9" fill="#fff" stroke="#000" stroke-width="1.8"/>
<circle cx="731.4" cy="1375.7" r="6.9" fill="#fff" stroke="#000" stroke-width="1.8"/>
<circle cx="759.6" cy="1377.2" r="6.9" fill="#fff" stroke="#000" stroke-width="1.8"/>
<circle cx="787.9" cy="1387.5" r="6.9" fill="#fff" stroke="#000" stroke-width="1.8"/>
<circle cx="816.1" cy="1390.1" r="6.9" fill="#fff" stroke="#000" stroke-width="1.8"/>
<circle cx="844.3" cy="1437.4" r="6.9" fill="#fff" stroke="#000" stroke-width="1.8"/>
<circle cx="872.6" cy="1401.8" r="6.9" fill="#fff" stroke="#000" stroke-width="1.8"/>
<circle cx="900.8" cy="1401.8" r="6.9" fill="#fff" stroke="#000" stroke-width="1.8"/>
<circle cx="929.1" cy="1435.3" r="6.9" fill="#fff" stroke="#000" stroke-width="1.8"/>
<circle cx="957.3" cy="1373.3" r="6.9" fill="#fff" stroke="#000" stroke-width="1.8"/>
<circle cx="985.5" cy="1365.5" r="6.9" fill="#fff" stroke="#000" stroke-width="1.8"/>
<circle cx="1013.8" cy="1386.1" r="6.9" fill="#fff" stroke="#000" stroke-width="1.8"/>
<circle cx="1042" cy="1343.8" r="6.9" fill="#fff" stroke="#000" stroke-width="1.8"/>
<circle cx="1070.3" cy="1386.1" r="6.9" fill="#fff" stroke="#000" stroke-width="1.8"/>
<polyline points="336,1523.7 364.3,1542.2 392.5,1522.2 420.7,1573.7 449,1546.5 477.2,1483.8 505.5,1485.7 533.7,1513.9 561.9,1495.8 590.2,1514.3 618.4,1552.6 646.7,1546 674.9,1538.9 703.1,1552.2 731.4,1495.2 759.6,1541.5 787.9,1527.7 816.1,1537.2 844.3,1563 872.6,1559.5 900.8,1578.2 929.1,1583.6 957.3,1554.8 985.5,1518.5 1013.8,1533.3 1042,1553.6 1070.3,1547.1" fill="none" stroke="#000" stroke-width="2" stroke-linejoin="round"/>
<circle cx="336" cy="1523.7" r="7.6" fill="#000"/>
<circle cx="364.3" cy="1542.2" r="7.6" fill="#000"/>
<circle cx="392.5" cy="1522.2" r="7.6" fill="#000"/>
<circle cx="420.7" cy="1573.7" r="7.6" fill="#000"/>
<circle cx="449" cy="1546.5" r="7.6" fill="#000"/>
<circle cx="477.2" cy="1483.8" r="7.6" fill="#000"/>
<circle cx="505.5" cy="1485.7" r="7.6" fill="#000"/>
<circle cx="533.7" cy="1513.9" r="7.6" fill="#000"/>
<circle cx="561.9" cy="1495.8" r="7.6" fill="#000"/>
<circle cx="590.2" cy="1514.3" r="7.6" fill="#000"/>
<circle cx="618.4" cy="1552.6" r="7.6" fill="#000"/>
<circle cx="646.7" cy="1546" r="7.6" fill="#000"/>
<circle cx="674.9" cy="1538.9" r="7.6" fill="#000"/>
<circle cx="703.1" cy="1552.2" r="7.6" fill="#000"/>
<circle cx="731.4" cy="1495.2" r="7.6" fill="#000"/>
<circle cx="759.6" cy="1541.5" r="7.6" fill="#000"/>
<circle cx="787.9" cy="1527.7" r="7.6" fill="#000"/>
<circle cx="816.1" cy="1537.2" r="7.6" fill="#000"/>
<circle cx="844.3" cy="1563" r="7.6" fill="#000"/>
<circle cx="872.6" cy="1559.5" r="7.6" fill="#000"/>
<circle cx="900.8" cy="1578.2" r="7.6" fill="#000"/>
<circle cx="929.1" cy="1583.6" r="7.6" fill="#000"/>
<circle cx="957.3" cy="1554.8" r="7.6" fill="#000"/>
<circle cx="985.5" cy="1518.5" r="7.6" fill="#000"/>
<circle cx="1013.8" cy="1533.3" r="7.6" fill="#000"/>
<circle cx="1042" cy="1553.6" r="7.6" fill="#000"/>
<circle cx="1070.3" cy="1547.1" r="7.6" fill="#000"/>
<polyline points="392.5,1396.6 420.7,1368.1 449,1361.9 477.2,1351 505.5,1337.8 533.7,1336.2 561.9,1359.7 590.2,1356.6 618.4,1363.6 646.7,1373.5 674.9,1378.6 703.1,1374.6 731.4,1385.6 759.6,1386.7 787.9,1392.2 816.1,1397.8 844.3,1405.3 872.6,1413.5 900.8,1408.1 929.1,1394.8 957.3,1392.5 985.5,1380.8 1013.8,1370.7" fill="none" stroke="#595959" stroke-width="4.8" stroke-linejoin="round"/>
<polyline points="392.5,1541.8 420.7,1533.2 449,1521.8 477.2,1520.5 505.5,1504.7 533.7,1498.3 561.9,1509.2 590.2,1522.5 618.4,1529.6 646.7,1540.9 674.9,1535.4 703.1,1533.7 731.4,1530.7 759.6,1530.3 787.9,1532 816.1,1541.9 844.3,1553.6 872.6,1563 900.8,1567.7 929.1,1557.1 957.3,1552.5 985.5,1547.8 1013.8,1541.5" fill="none" stroke="#595959" stroke-width="4.8" stroke-linejoin="round"/>
<line x1="534" y1="1351.6" x2="927.5" y2="1422.9" stroke="#0000f0" stroke-width="11.5" stroke-dasharray="6.5 7.3"/>
<line x1="533.3" y1="1510.8" x2="927" y2="1574.7" stroke="#0000f0" stroke-width="11.5" stroke-dasharray="6.5 7.3"/>
<polygon points="909.9,1445.1 927.9,1455.7 946.2,1445.1 927.9,1488.4" fill="#231f20"/>
<polygon points="912.3,1595.3 929.8,1606.3 948.1,1595.3 929.8,1639.1" fill="#231f20"/>
<text x="958.6" y="1480.8" font-size="40" font-weight="bold" fill="#231f20">‘14</text>
<text x="961" y="1635" font-size="40" font-weight="bold" fill="#231f20">‘14</text>
<line x1="809.3" y1="1203.9" x2="920" y2="1203.9" stroke="#000" stroke-width="2"/>
<circle cx="863.6" cy="1203.5" r="14.4" fill="#fff" stroke="#000" stroke-width="2"/>
<line x1="806.9" y1="1266.2" x2="917" y2="1266.2" stroke="#000" stroke-width="5.9"/>
<circle cx="860.8" cy="1266.4" r="14" fill="#000"/>
<text x="927.4" y="1220.2" font-size="46.5">spring</text>
<text x="932.2" y="1282.7" font-size="46.5">winter</text>
<text x="-0.3" y="1224.8" font-size="49" font-weight="bold">C</text>
<text x="246.4" y="1229.8" font-size="46.5">SSTs in the Kuroshio axis</text>
<text x="169.1" y="1290" font-size="46.5">22</text>
<text x="169.1" y="1353" font-size="46.5">21</text>
<text x="168.6" y="1417" font-size="46.5">20</text>
<text x="168.8" y="1479.3" font-size="46.5">19</text>
<text x="168.8" y="1543.1" font-size="46.5">18</text>
<text x="169.1" y="1601.6" font-size="46.5">17</text>
<text x="168.8" y="1664.9" font-size="46.5">16</text>
<text x="192.3" y="1711" font-size="46.5">1990</text>
<text x="471.6" y="1711" font-size="46.5">2000</text>
<text x="751.2" y="1711" font-size="46.5">2010</text>
<text x="1034.5" y="1711" font-size="46.5">2020</text>
<text transform="translate(104.4,1488.8) rotate(-90)" font-size="46.5">(<tspan font-size="31" dy="-19">o</tspan><tspan dy="19" dx="-4">C)</tspan></text>
<line x1="251.4" y1="1859.7" x2="251.4" y2="2073.3" stroke="#000" stroke-width="5.3"/>
<line x1="230.5" y1="2051.8" x2="1098" y2="2051.8" stroke="#000" stroke-width="5.3"/>
<line x1="230.5" y1="1861.9" x2="265.6" y2="1861.9" stroke="#000" stroke-width="5.3"/>
<line x1="230.5" y1="1925.2" x2="265.6" y2="1925.2" stroke="#000" stroke-width="5.3"/>
<line x1="230.5" y1="1988.5" x2="265.6" y2="1988.5" stroke="#000" stroke-width="5.3"/>
<line x1="230.5" y1="2051.8" x2="265.6" y2="2051.8" stroke="#000" stroke-width="5.3"/>
<line x1="235.8" y1="1893.5" x2="262.1" y2="1893.5" stroke="#000" stroke-width="5.3"/>
<line x1="235.8" y1="1956.8" x2="262.1" y2="1956.8" stroke="#000" stroke-width="5.3"/>
<line x1="235.8" y1="2020.1" x2="262.1" y2="2020.1" stroke="#000" stroke-width="5.3"/>
<line x1="357.2" y1="2036.2" x2="357.2" y2="2067.8" stroke="#000" stroke-width="5.3"/>
<line x1="463" y1="2036.2" x2="463" y2="2072.7" stroke="#000" stroke-width="5.3"/>
<line x1="568.8" y1="2036.2" x2="568.8" y2="2067.8" stroke="#000" stroke-width="5.3"/>
<line x1="674.6" y1="2036.2" x2="674.6" y2="2072.7" stroke="#000" stroke-width="5.3"/>
<line x1="780.4" y1="2036.2" x2="780.4" y2="2067.8" stroke="#000" stroke-width="5.3"/>
<line x1="886.2" y1="2036.2" x2="886.2" y2="2072.7" stroke="#000" stroke-width="5.3"/>
<line x1="992" y1="2036.2" x2="992" y2="2067.8" stroke="#000" stroke-width="5.3"/>
<line x1="1097.8" y1="2036.2" x2="1097.8" y2="2072.7" stroke="#000" stroke-width="5.3"/>
<line x1="251.4" y1="1938.5" x2="1098.5" y2="1938.5" stroke="#000" stroke-width="1.7" stroke-dasharray="7 7"/>
<polyline points="293.7,1960.7 314.9,1940.3 336,1905.2 357.2,1938.7 378.4,1882.8 399.5,1944.2 420.7,1934.8 441.8,1932.8 463,1927.8 484.2,1917.9 505.3,1948 526.5,1892 547.6,1957.4 568.8,1935.9 590,1912 611.1,1950.4 632.3,2056.2 653.4,1934.8 674.6,1940.9 695.8,1950.8 716.9,1993.6 738.1,1990.3 759.2,1985.9 780.4,1928.9 801.6,1922.5 822.7,1908.6 843.9,1948.4 865,1911.3 886.2,1923.8 907.4,1884 928.5,1937.6 949.7,1950.4 970.8,1899.7 992,1900.9 1013.2,1938.3 1034.3,1920.2 1055.5,1963.7 1076.6,1972.6" fill="none" stroke="#000" stroke-width="2" stroke-linejoin="round"/>
<circle cx="293.7" cy="1960.7" r="7.1" fill="#000"/>
<circle cx="314.9" cy="1940.3" r="7.1" fill="#000"/>
<circle cx="336" cy="1905.2" r="7.1" fill="#000"/>
<circle cx="357.2" cy="1938.7" r="7.1" fill="#000"/>
<circle cx="378.4" cy="1882.8" r="7.1" fill="#000"/>
<circle cx="399.5" cy="1944.2" r="7.1" fill="#000"/>
<circle cx="420.7" cy="1934.8" r="7.1" fill="#000"/>
<circle cx="441.8" cy="1932.8" r="7.1" fill="#000"/>
<circle cx="463" cy="1927.8" r="7.1" fill="#000"/>
<circle cx="484.2" cy="1917.9" r="7.1" fill="#000"/>
<circle cx="505.3" cy="1948" r="7.1" fill="#000"/>
<circle cx="526.5" cy="1892" r="7.1" fill="#000"/>
<circle cx="547.6" cy="1957.4" r="7.1" fill="#000"/>
<circle cx="568.8" cy="1935.9" r="7.1" fill="#000"/>
<circle cx="590" cy="1912" r="7.1" fill="#000"/>
<circle cx="611.1" cy="1950.4" r="7.1" fill="#000"/>
<circle cx="632.3" cy="2056.2" r="7.1" fill="#000"/>
<circle cx="653.4" cy="1934.8" r="7.1" fill="#000"/>
<circle cx="674.6" cy="1940.9" r="7.1" fill="#000"/>
<circle cx="695.8" cy="1950.8" r="7.1" fill="#000"/>
<circle cx="716.9" cy="1993.6" r="7.1" fill="#000"/>
<circle cx="738.1" cy="1990.3" r="7.1" fill="#000"/>
<circle cx="759.2" cy="1985.9" r="7.1" fill="#000"/>
<circle cx="780.4" cy="1928.9" r="7.1" fill="#000"/>
<circle cx="801.6" cy="1922.5" r="7.1" fill="#000"/>
<circle cx="822.7" cy="1908.6" r="7.1" fill="#000"/>
<circle cx="843.9" cy="1948.4" r="7.1" fill="#000"/>
<circle cx="865" cy="1911.3" r="7.1" fill="#000"/>
<circle cx="886.2" cy="1923.8" r="7.1" fill="#000"/>
<circle cx="907.4" cy="1884" r="7.1" fill="#000"/>
<circle cx="928.5" cy="1937.6" r="7.1" fill="#000"/>
<circle cx="949.7" cy="1950.4" r="7.1" fill="#000"/>
<circle cx="970.8" cy="1899.7" r="7.1" fill="#000"/>
<circle cx="992" cy="1900.9" r="7.1" fill="#000"/>
<circle cx="1013.2" cy="1938.3" r="7.1" fill="#000"/>
<circle cx="1034.3" cy="1920.2" r="7.1" fill="#000"/>
<circle cx="1055.5" cy="1963.7" r="7.1" fill="#000"/>
<circle cx="1076.6" cy="1972.6" r="7.1" fill="#000"/>
<polyline points="336,1925.1 357.2,1922.3 378.4,1920.1 399.5,1926 420.7,1924 441.8,1932.2 463,1932.2 484.2,1923 505.3,1928.4 526.5,1929.3 547.6,1928.4 568.8,1928.9 590,1962.4 611.1,1958.5 632.3,1959.6 653.4,1967.3 674.6,1975.6 695.8,1962.9 716.9,1972.3 738.1,1969.5 759.2,1964.6 780.4,1948.5 801.6,1937.6 822.7,1923.8 843.9,1921.4 865,1914.2 886.2,1919 907.4,1920.9 928.5,1919.5 949.7,1914.9 970.8,1925 992,1921.9 1013.2,1924.3 1034.3,1938.3" fill="none" stroke="#595959" stroke-width="4.8" stroke-linejoin="round"/>
<line x1="675.6" y1="1969.5" x2="970.7" y2="1903.3" stroke="#0000f0" stroke-width="11.5" stroke-dasharray="6.5 7.3"/>
<polygon points="889.1,1872.6 907.2,1861.5 925.6,1872.6 907.2,1829.7" fill="#231f20"/>
<text x="924.5" y="1857.6" font-size="40" font-weight="bold" fill="#231f20">‘11</text>
<text x="-1.4" y="1797" font-size="49" font-weight="bold">D</text>
<text x="265.2" y="1803.2" font-size="46.5">potential growth rate of sardine (spring)</text>
<text x="126.3" y="1882" font-size="46.5">0.40</text>
<text x="126.3" y="1945.6" font-size="46.5">0.30</text>
<text x="126.3" y="2009.2" font-size="46.5">0.20</text>
<text x="126.3" y="2072.8" font-size="46.5">0.10</text>
<text transform="translate(100.9,2038) rotate(-90)" font-size="46.5">(mm/day)</text>
<line x1="251.1" y1="2187.8" x2="251.1" y2="2400" stroke="#000" stroke-width="5.3"/>
<line x1="230.5" y1="2378.8" x2="1100" y2="2378.8" stroke="#000" stroke-width="5.3"/>
<line x1="230.5" y1="2188.7" x2="265.6" y2="2188.7" stroke="#000" stroke-width="5.3"/>
<line x1="235.8" y1="2284" x2="262.1" y2="2284" stroke="#000" stroke-width="5.3"/>
<line x1="357" y1="2363" x2="357" y2="2395" stroke="#000" stroke-width="5.3"/>
<line x1="462.8" y1="2363" x2="462.8" y2="2400" stroke="#000" stroke-width="5.3"/>
<line x1="568.6" y1="2363" x2="568.6" y2="2395" stroke="#000" stroke-width="5.3"/>
<line x1="674.4" y1="2363" x2="674.4" y2="2400" stroke="#000" stroke-width="5.3"/>
<line x1="780.2" y1="2363" x2="780.2" y2="2395" stroke="#000" stroke-width="5.3"/>
<line x1="886" y1="2363" x2="886" y2="2400" stroke="#000" stroke-width="5.3"/>
<line x1="991.8" y1="2363" x2="991.8" y2="2395" stroke="#000" stroke-width="5.3"/>
<line x1="1097.6" y1="2363" x2="1097.6" y2="2400" stroke="#000" stroke-width="5.3"/>
<line x1="251.1" y1="2261.2" x2="1099" y2="2261.2" stroke="#000" stroke-width="1.7" stroke-dasharray="7 7"/>
<polyline points="293.5,2275.6 314.7,2275.6 335.8,2328.8 357,2251.6 378.2,2323.6 399.3,2265.8 420.5,2240.2 441.6,2237.7 462.8,2254.9 484,2262.5 505.1,2220.2 526.3,2271.3 547.4,2250.5 568.6,2228.5 589.8,2298.7 610.9,2241.3 632.1,2224.8 653.2,2255.6 674.4,2261 695.6,2241.7 716.7,2205.5 737.9,2223.7 759,2234.7 780.2,2272 801.4,2263 822.5,2273.5 843.7,2237.7 864.8,2276.4 886,2285 907.2,2345.2 928.3,2254.9 949.5,2243.1 970.6,2301.9 991.8,2280.4 1013,2261.9 1034.1,2284.5 1055.3,2256.8 1076.4,2244.5" fill="none" stroke="#000" stroke-width="2" stroke-linejoin="round"/>
<circle cx="293.5" cy="2275.6" r="7.1" fill="#000"/>
<circle cx="314.7" cy="2275.6" r="7.1" fill="#000"/>
<circle cx="335.8" cy="2328.8" r="7.1" fill="#000"/>
<circle cx="357" cy="2251.6" r="7.1" fill="#000"/>
<circle cx="378.2" cy="2323.6" r="7.1" fill="#000"/>
<circle cx="399.3" cy="2265.8" r="7.1" fill="#000"/>
<circle cx="420.5" cy="2240.2" r="7.1" fill="#000"/>
<circle cx="441.6" cy="2237.7" r="7.1" fill="#000"/>
<circle cx="462.8" cy="2254.9" r="7.1" fill="#000"/>
<circle cx="484" cy="2262.5" r="7.1" fill="#000"/>
<circle cx="505.1" cy="2220.2" r="7.1" fill="#000"/>
<circle cx="526.3" cy="2271.3" r="7.1" fill="#000"/>
<circle cx="547.4" cy="2250.5" r="7.1" fill="#000"/>
<circle cx="568.6" cy="2228.5" r="7.1" fill="#000"/>
<circle cx="589.8" cy="2298.7" r="7.1" fill="#000"/>
<circle cx="610.9" cy="2241.3" r="7.1" fill="#000"/>
<circle cx="632.1" cy="2224.8" r="7.1" fill="#000"/>
<circle cx="653.2" cy="2255.6" r="7.1" fill="#000"/>
<circle cx="674.4" cy="2261" r="7.1" fill="#000"/>
<circle cx="695.6" cy="2241.7" r="7.1" fill="#000"/>
<circle cx="716.7" cy="2205.5" r="7.1" fill="#000"/>
<circle cx="737.9" cy="2223.7" r="7.1" fill="#000"/>
<circle cx="759" cy="2234.7" r="7.1" fill="#000"/>
<circle cx="780.2" cy="2272" r="7.1" fill="#000"/>
<circle cx="801.4" cy="2263" r="7.1" fill="#000"/>
<circle cx="822.5" cy="2273.5" r="7.1" fill="#000"/>
<circle cx="843.7" cy="2237.7" r="7.1" fill="#000"/>
<circle cx="864.8" cy="2276.4" r="7.1" fill="#000"/>
<circle cx="886" cy="2285" r="7.1" fill="#000"/>
<circle cx="907.2" cy="2345.2" r="7.1" fill="#000"/>
<circle cx="928.3" cy="2254.9" r="7.1" fill="#000"/>
<circle cx="949.5" cy="2243.1" r="7.1" fill="#000"/>
<circle cx="970.6" cy="2301.9" r="7.1" fill="#000"/>
<circle cx="991.8" cy="2280.4" r="7.1" fill="#000"/>
<circle cx="1013" cy="2261.9" r="7.1" fill="#000"/>
<circle cx="1034.1" cy="2284.5" r="7.1" fill="#000"/>
<circle cx="1055.3" cy="2256.8" r="7.1" fill="#000"/>
<circle cx="1076.4" cy="2244.5" r="7.1" fill="#000"/>
<polyline points="335.8,2291.7 357,2288.7 378.2,2282.3 399.3,2263.6 420.5,2264.1 441.6,2252.7 462.8,2243.4 484,2250 505.1,2252 526.3,2246.5 547.4,2253.8 568.6,2258.2 589.8,2248.7 610.9,2249.4 632.1,2256 653.2,2243.9 674.4,2237.3 695.6,2236.2 716.7,2232.5 737.9,2234 759,2238.4 780.2,2251.6 801.4,2256 822.5,2262.5 843.7,2265.2 864.8,2283.4 886,2280.2 907.2,2282.3 928.3,2284.2 949.5,2284.9 970.6,2268.5 991.8,2273.8 1013,2276.9 1034.1,2266" fill="none" stroke="#595959" stroke-width="4.8" stroke-linejoin="round"/>
<line x1="675.1" y1="2232.9" x2="970.1" y2="2293.1" stroke="#0000f0" stroke-width="11.5" stroke-dasharray="6.5 7.3"/>
<polygon points="891.3,2353.6 909,2363.2 927.5,2353.6 909,2396.3" fill="#231f20"/>
<text x="930" y="2357" font-size="40" font-weight="bold" fill="#231f20">‘11</text>
<text x="-1" y="2135.8" font-size="49" font-weight="bold">E</text>
<text x="261.4" y="2138.2" font-size="46.5">potential growth rate of anchovy (spring)</text>
<text x="126.3" y="2210" font-size="46.5">0.40</text>
<text x="126.3" y="2400.2" font-size="46.5">0.30</text>
<text x="189.4" y="2438.5" font-size="46.5">1980</text>
<text x="402.3" y="2438.5" font-size="46.5">1990</text>
<text x="611.5" y="2438.5" font-size="46.5">2000</text>
<text x="823" y="2438.5" font-size="46.5">2010</text>
<text x="1034.5" y="2438.5" font-size="46.5">2020</text>
<text x="559" y="2484.8" font-size="46.5">Time (year)</text>
<text transform="translate(100.9,2396.8) rotate(-90)" font-size="46.5">(mm/day)</text>
</svg></body></html>
